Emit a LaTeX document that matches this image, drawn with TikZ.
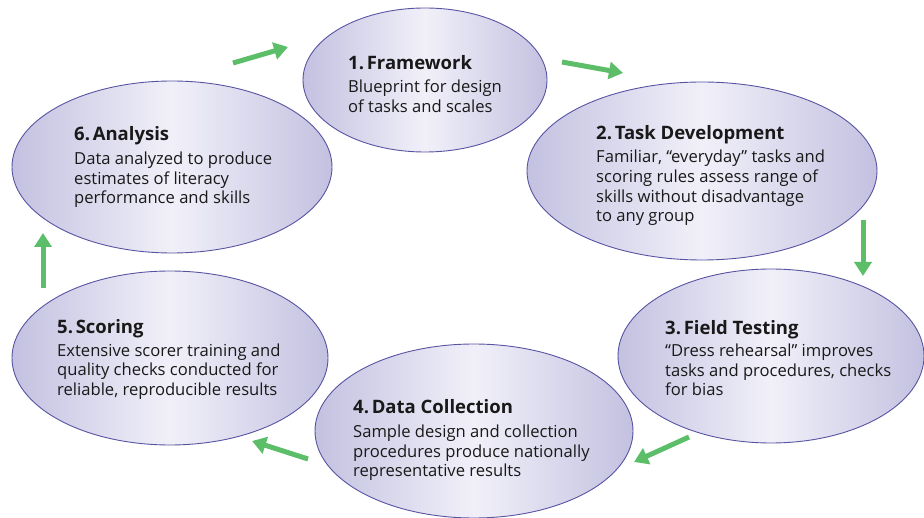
\documentclass[tikz,border=0pt]{standalone}
\usepackage{fontspec}
\setmainfont{Open Sans}
\usetikzlibrary{shapes.geometric,arrows.meta}
\definecolor{edgecol}{RGB}{195,193,224}
\definecolor{midcol}{RGB}{241,240,249}
\definecolor{bordcol}{RGB}{88,84,162}
\definecolor{arrcol}{RGB}{93,190,106}
\tikzset{
  stage/.style={ellipse, draw=bordcol, line width=0.9pt, inner sep=0pt,
    left color=edgecol, right color=edgecol, middle color=midcol},
  ttl/.style={anchor=base west, inner sep=0pt, font=\bfseries\fontsize{18.5}{22}\selectfont, text=black!90},
  bdy/.style={anchor=north west, inner sep=0pt, align=left, font=\fontsize{16.6}{19.7}\selectfont, text=black!90},
  flow/.style={draw=arrcol, line width=5pt, -{Triangle[length=14pt,width=17pt]}}
}
\begin{document}
\begin{tikzpicture}[x=1pt,y=-1pt]
\useasboundingbox (0,0) rectangle (924,518);
% ellipses
\node[stage, minimum width=244pt, minimum height=144pt] (e1) at (425,80) {};
\node[stage, minimum width=350pt, minimum height=178pt] (e2) at (702,171) {};
\node[stage, minimum width=306pt, minimum height=174pt] (e3) at (771,356) {};
\node[stage, minimum width=318pt, minimum height=174pt] (e4) at (474,431) {};
\node[stage, minimum width=316pt, minimum height=174pt] (e5) at (170,358) {};
\node[stage, minimum width=320pt, minimum height=172pt] (e6) at (172,167) {};
% texts
\node[ttl] (t1) at (348,70) {1.\kern0.15em Framework};
\node[bdy] (b1) at (348,79) {\strut Blueprint for design\\\strut of tasks and scales};
\node[ttl] (t2) at (596,139.3) {2.\kern0.15em Task Development};
\node[bdy] (b2) at (596,148.9) {\strut Familiar, “everyday” tasks and\\\strut scoring rules assess range of\\\strut skills without disadvantage\\\strut to any group};
\node[ttl] (t3) at (665,334.3) {3.\kern0.15em Field Testing};
\node[bdy] (b3) at (665,342.5) {\strut “Dress rehearsal” improves\\\strut tasks and procedures, checks\\\strut for bias};
\node[ttl] (t4) at (353,414) {4.\kern0.15em Data Collection};
\node[bdy] (b4) at (353,423.5) {\strut Sample design and collection\\\strut procedures produce nationally\\\strut representative results};
\node[ttl] (t5) at (57,333.3) {5.\kern0.15em Scoring};
\node[bdy] (b5) at (57,342.3) {\strut Extensive scorer training and\\\strut quality checks conducted for\\\strut reliable, reproducible results};
\node[ttl] (t6) at (74,141) {6.\kern0.15em Analysis};
\node[bdy] (b6) at (74,150.5) {\strut Data analyzed to produce\\\strut estimates of literacy\\\strut performance and skills};
% arrow end points
\coordinate (a61s) at (233,63);  \coordinate (a61e) at (288,47);
\coordinate (a12s) at (562,62);  \coordinate (a12e) at (623,73);
\coordinate (a23s) at (863,220); \coordinate (a23e) at (863,276);
\coordinate (a34s) at (689,437); \coordinate (a34e) at (634,462);
\coordinate (a45s) at (308,459); \coordinate (a45e) at (252,441);
\coordinate (a56s) at (43,288);  \coordinate (a56e) at (43,233);
\draw[flow] (a61s) -- (a61e);
\draw[flow] (a12s) -- (a12e);
\draw[flow] (a23s) -- (a23e);
\draw[flow] (a34s) -- (a34e);
\draw[flow] (a45s) -- (a45e);
\draw[flow] (a56s) -- (a56e);
\end{tikzpicture}
\end{document}
